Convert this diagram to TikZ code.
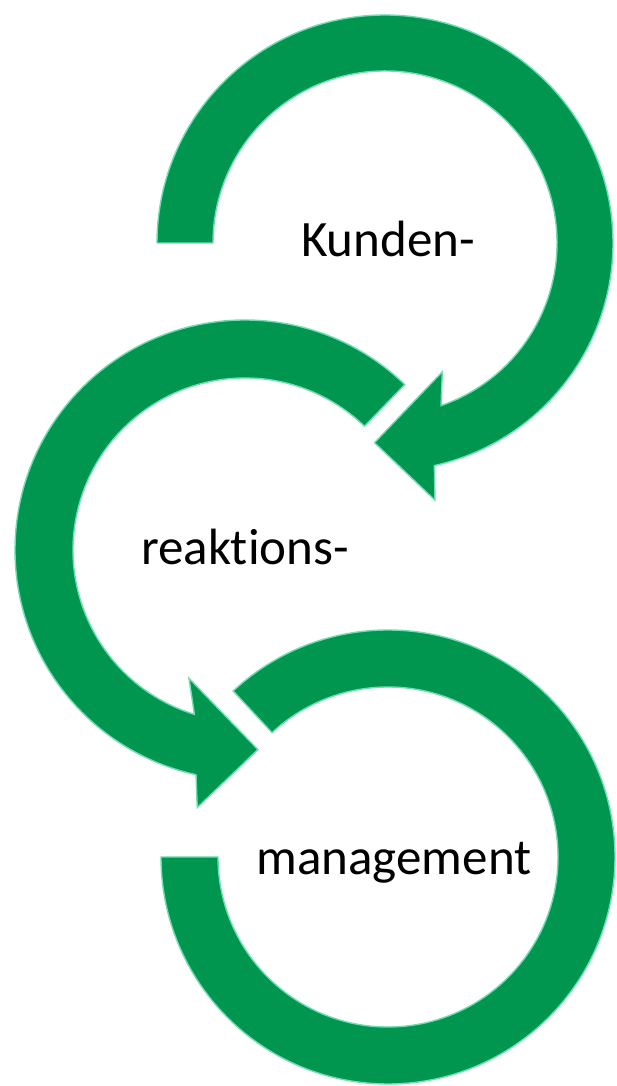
\documentclass[tikz,border=0pt]{standalone}
\usepackage{fontspec}
\setmainfont{Carlito}[Ligatures={NoCommon,NoContextual},Contextuals=NoAlternate]
\usepackage{tikz}
\usetikzlibrary{calc}
\definecolor{arrowgreen}{HTML}{00964F}
\definecolor{edgegreen}{HTML}{6FDDB0}

\begin{document}
\begin{tikzpicture}[x=1pt,y=1pt]
\tikzstyle{band}=[fill=arrowgreen,draw=edgegreen,line width=1.4pt,line join=miter]
\tikzstyle{word}=[anchor=base,inner sep=0pt,font=\fontsize{51}{60}\selectfont]
\useasboundingbox (0,0) rectangle (616,1086);
\coordinate (ca) at (385,843);
\coordinate (cb) at (245,536);
\coordinate (cc) at (388,229);
% top arrow, clockwise
\path[band] ($(ca)+(180:228pt)$) arc[start angle=180,end angle=-77.5,radius=228pt]
  -- ($(ca)+(-79:262pt)$) -- ($(ca)+(-93:200pt)$) -- ($(ca)+(-66:141pt)$)
  -- ($(ca)+(-71:172pt)$) arc[start angle=-71,end angle=180,radius=172pt] -- cycle;
% middle arrow, counter clockwise
\path[band] ($(cb)+(46:230pt)$) arc[start angle=46,end angle=257.7,radius=230pt]
  -- ($(cb)+(259.5:262pt)$) -- ($(cb)+(273.7:200pt)$) -- ($(cb)+(246.4:140pt)$)
  -- ($(cb)+(252.9:172pt)$) arc[start angle=252.9,end angle=46,radius=172pt] -- cycle;
% bottom arrow, clockwise, no head
\path[band] ($(cc)+(133:227pt)$) arc[start angle=133,end angle=-180,radius=227pt]
  -- ($(cc)+(180:170pt)$) arc[start angle=-180,end angle=133,radius=170pt] -- cycle;
\node[word] (kunden) at (388,829) {Kunden-};
\node[word] (reaktion) at (245,521) {reaktions-};
\node[word] (mgmt) at (394,211) {management};
\end{tikzpicture}
\end{document}
